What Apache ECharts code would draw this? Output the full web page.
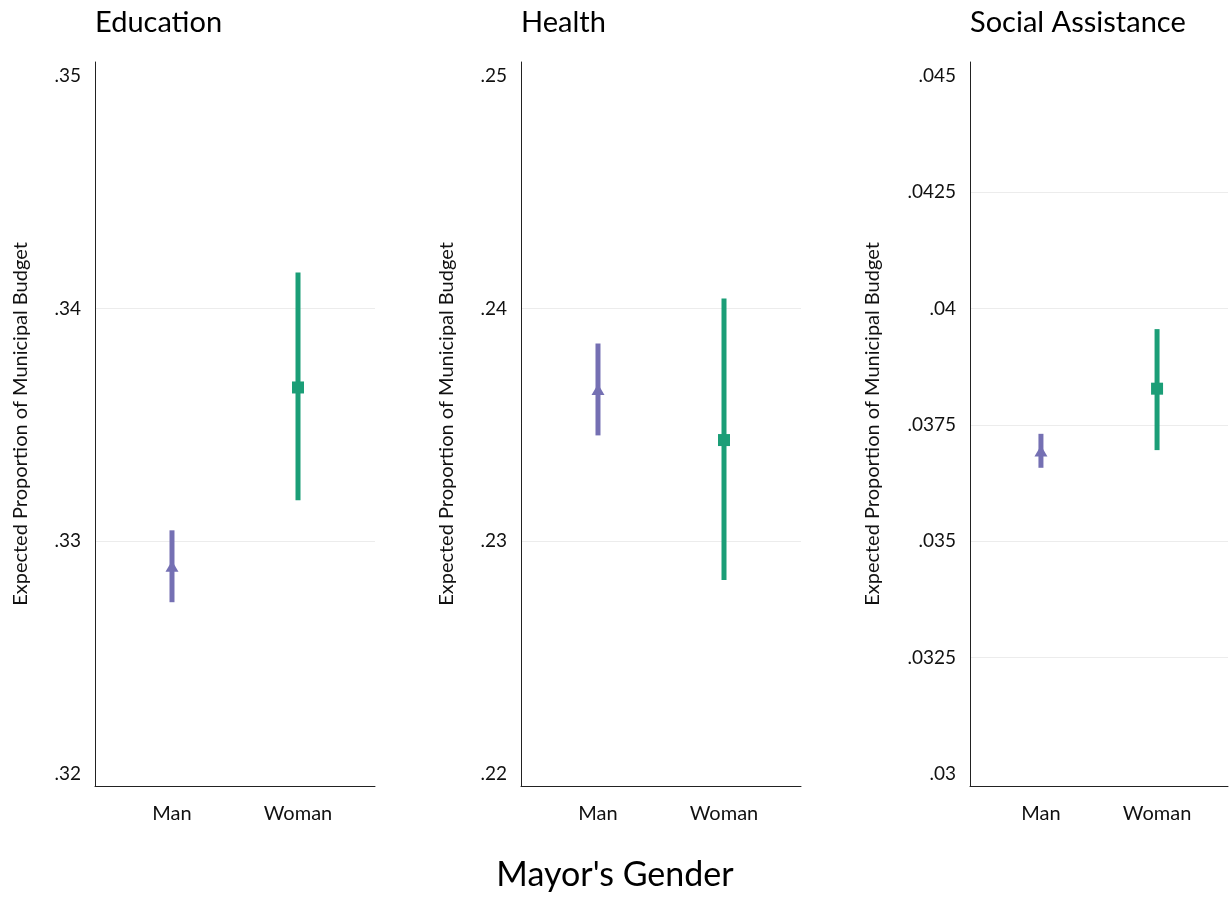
<!DOCTYPE html>
<html>
<head>
<meta charset="utf-8">
<script src="https://cdn.jsdelivr.net/npm/echarts@6/dist/echarts.min.js"></script>
<style>
html,body{margin:0;padding:0;background:#fff;}
#chart{width:1230px;height:903px;}
</style>
</head>
<body>
<div id="chart"></div>
<script>
// ---- data ----
const panels = ["Education", "Health", "Social Assistance"];
const categories = ["Man", "Woman"];
// point estimates [Man, Woman]
const estEducation = [0.32893, 0.33661];
const estHealth = [0.23652, 0.23435];
const estSocial = [0.03694, 0.03828];
// confidence intervals [low, high] for [Man, Woman]
const ciEducation = [[0.32738, 0.33047], [0.33176, 0.34155]];
const ciHealth = [[0.23455, 0.2385], [0.22833, 0.24043]];
const ciSocial = [[0.03658, 0.03731], [0.03696, 0.03956]];
// tick labels
const ticksEducation = [0.32, 0.33, 0.34, 0.35];
const ticksHealth = [0.22, 0.23, 0.24, 0.25];
const ticksSocial = [0.03, 0.0325, 0.035, 0.0375, 0.04, 0.0425, 0.045];
const yTitle = "Expected Proportion of Municipal Budget";
const xTitle = "Mayor's Gender";

// ---- styling/layout ----
const FONT = "Lato";
const colors = ["#7570b3", "#1b9e77"];
const symbols = ["triangle", "rect"];
const symbolSizes = [[13, 11], 12];

const ests = [estEducation, estHealth, estSocial];
const cis = [ciEducation, ciHealth, ciSocial];
const ticks = [ticksEducation, ticksHealth, ticksSocial];
const gridLefts = [95, 521, 970];
const gridWidths = [280, 280, 258];
const nameGaps = [64, 64, 87];
const yRanges = [[0.31948, 0.3506], [0.21948, 0.2506], [0.029742, 0.04530]];

function fmt(v) {
  let s = String(+v.toFixed(5));
  return s.replace(/^0\./, ".");
}

const grid = [], xAxis = [], yAxis = [], series = [], title = [];
for (let p = 0; p < 3; p++) {
  grid.push({left: gridLefts[p], width: gridWidths[p], top: 62, height: 724});
  title.push({text: panels[p], left: gridLefts[p] - 5, top: 3,
    textStyle: {fontFamily: FONT, fontSize: 29, fontWeight: "normal", color: "#000"}});
  xAxis.push({
    type: "value", gridIndex: p, min: 0.389, max: 2.611,
    axisLine: {show: true, lineStyle: {color: "#222", width: 1}},
    axisTick: {show: false},
    splitLine: {show: false},
    axisLabel: {
      customValues: [1, 2],
      formatter: v => categories[Math.round(v) - 1],
      fontFamily: FONT, fontSize: 20, color: "#111", margin: 18
    }
  });
  const t = ticks[p];
  yAxis.push({
    type: "value", gridIndex: p, min: yRanges[p][0], max: yRanges[p][1],
    name: yTitle, nameLocation: "middle", nameRotate: 90, nameGap: nameGaps[p],
    nameTextStyle: {fontFamily: FONT, fontSize: 20, color: "#111"},
    axisLine: {show: true, lineStyle: {color: "#222", width: 1}},
    axisTick: {show: false, customValues: t.slice(1, t.length - 1)},
    splitLine: {show: true, lineStyle: {color: "#ececec", width: 1}},
    axisLabel: {customValues: t, formatter: fmt,
      fontFamily: FONT, fontSize: 19, color: "#111", margin: 14}
  });
  for (let c = 0; c < 2; c++) {
    series.push({
      type: "custom", xAxisIndex: p, yAxisIndex: p,
      data: [[c + 1, cis[p][c][0], cis[p][c][1]]],
      renderItem: function (params, api) {
        const lo = api.coord([api.value(0), api.value(1)]);
        const hi = api.coord([api.value(0), api.value(2)]);
        return {type: "line", shape: {x1: lo[0], y1: lo[1], x2: hi[0], y2: hi[1]},
          style: {stroke: colors[c], lineWidth: 5}};
      },
      silent: true, z: 2
    });
    series.push({
      type: "scatter", xAxisIndex: p, yAxisIndex: p,
      data: [[c + 1, ests[p][c]]],
      symbol: symbols[c], symbolSize: symbolSizes[c],
      itemStyle: {color: colors[c], opacity: 1},
      silent: true, z: 3
    });
  }
}
title.push({text: xTitle, left: "center", top: 853,
  textStyle: {fontFamily: FONT, fontSize: 34, fontWeight: "normal", color: "#000"}});

const chart = echarts.init(document.getElementById("chart"), null, {renderer: "canvas"});
chart.setOption({
  animation: false,
  backgroundColor: "#fff",
  title: title, grid: grid, xAxis: xAxis, yAxis: yAxis, series: series
});
</script>
</body>
</html>
